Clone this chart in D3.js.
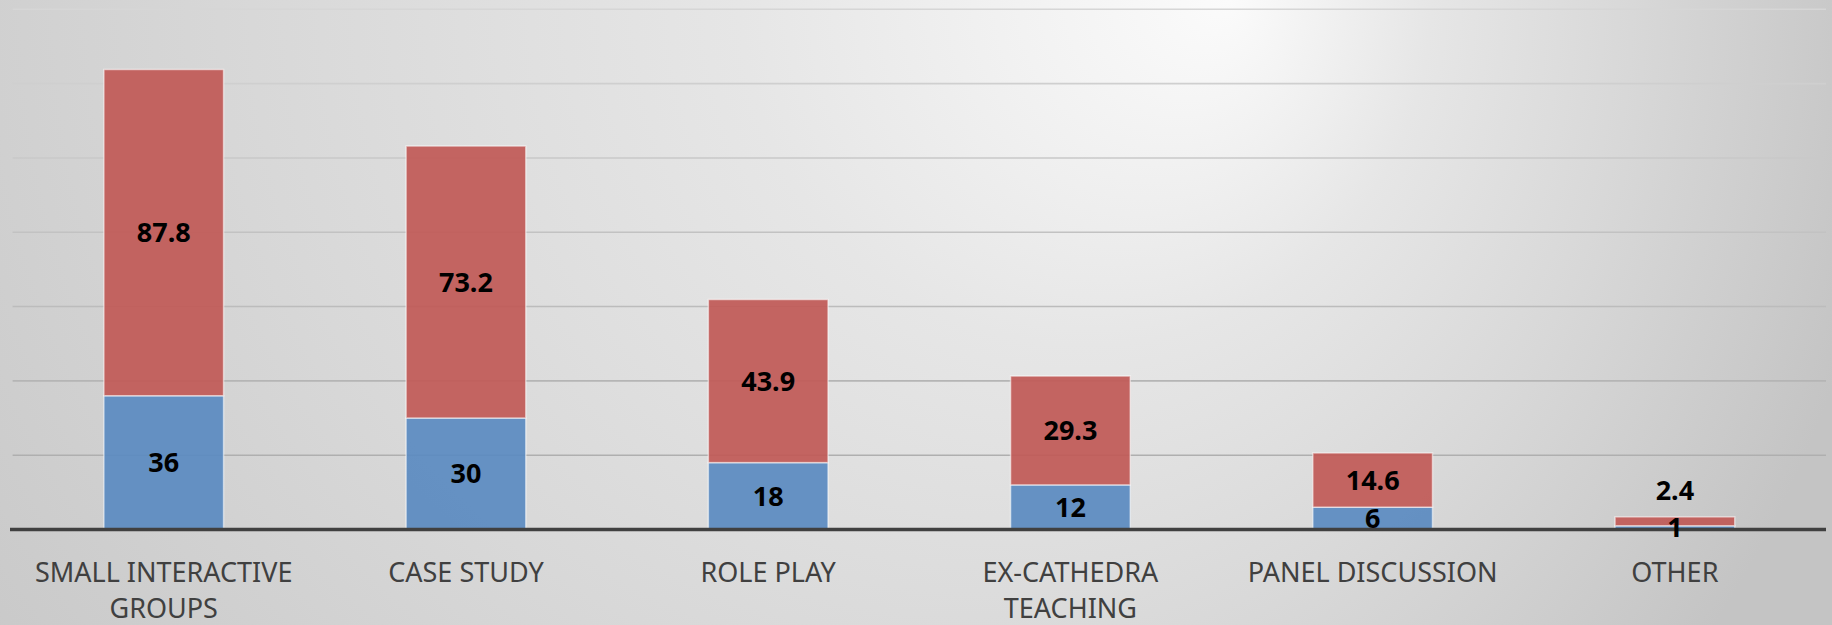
<!DOCTYPE html>
<html>
<head>
<meta charset="utf-8">
<script src="https://cdn.jsdelivr.net/npm/d3@7"></script>
<style>
  html, body { margin: 0; padding: 0; overflow: hidden; }
  svg { display: block; }
</style>
</head>
<body>
<svg id="chart" width="1832" height="625"></svg>
<script>
// ---- data ----
const categories = ["SMALL INTERACTIVE GROUPS", "CASE STUDY", "ROLE PLAY", "EX-CATHEDRA TEACHING", "PANEL DISCUSSION", "OTHER"];
const seriesBottom = [36, 30, 18, 12, 6, 1];
const seriesTop = [87.8, 73.2, 43.9, 29.3, 14.6, 2.4];
const gridTicks = [0, 20, 40, 60, 80, 100, 120, 140];

// ---- setup ----
const W = 1832, H = 625;
const svg = d3.select("#chart");
const defs = svg.append("defs");

const bg = defs.append("radialGradient")
  .attr("id", "bg")
  .attr("gradientUnits", "userSpaceOnUse")
  .attr("cx", 750).attr("cy", 0).attr("r", 1150)
  .attr("fx", 1230).attr("fy", 0);
[[0, "#fbfbfb"], [0.3, "#e6e6e6"], [0.6, "#d8d8d8"], [1, "#c4c4c4"]].forEach(([o, c]) =>
  bg.append("stop").attr("offset", o).attr("stop-color", c));

svg.append("rect").attr("width", W).attr("height", H).attr("fill", "url(#bg)");

const x = d3.scaleBand().domain(categories).range([12.6, 1826]).paddingInner(0.604).paddingOuter(0.302);
const y = d3.scaleLinear().domain([0, 140]).range([529.5, 9.3]);

const gridColor = d3.scaleLinear().domain([140, 0]).range(["#d6d6d6", "#a8a8a8"]);

// gridlines
svg.append("g").selectAll("line")
  .data(gridTicks.filter(d => d > 0))
  .join("line")
  .attr("x1", 12.6).attr("x2", 1826)
  .attr("y1", d => y(d)).attr("y2", d => y(d))
  .attr("stroke", d => gridColor(d))
  .attr("stroke-width", 1.6);

// stacked data
const rows = categories.map((c, i) => ({ cat: c, a: seriesBottom[i], b: seriesTop[i] }));
const stack = d3.stack().keys(["a", "b"])(rows);
const colors = { a: "#5b8bc1", b: "#c15a57" };

const layers = svg.append("g").selectAll("g")
  .data(stack).join("g")
  .attr("fill", d => colors[d.key]);

layers.selectAll("rect")
  .data(d => d)
  .join("rect")
  .attr("x", d => x(d.data.cat))
  .attr("width", x.bandwidth())
  .attr("y", d => y(d[1]))
  .attr("height", d => y(d[0]) - y(d[1]))
  .attr("fill-opacity", 0.93)
  .attr("stroke", "rgba(255,255,255,0.55)")
  .attr("stroke-width", 1.5);

// axis line
svg.append("line")
  .attr("x1", 10).attr("x2", 1826)
  .attr("y1", y(0)).attr("y2", y(0))
  .attr("stroke", "#404040").attr("stroke-width", 3.5);

// value labels
const labelG = svg.append("g")
  .attr("font-family", "'Noto Sans', sans-serif")
  .attr("font-weight", "bold")
  .attr("font-size", 27)
  .attr("fill", "#000")
  .attr("text-anchor", "middle");

stack.forEach(layer => {
  layer.forEach(d => {
    const v = d.data[layer.key];
    const top = y(d[1]), bot = y(d[0]);
    let cy = (top + bot) / 2;
    if (layer.key === "b" && bot - top < 20) cy = top - 27;
    labelG.append("text")
      .attr("x", x(d.data.cat) + x.bandwidth() / 2)
      .attr("y", cy)
      .attr("dy", "0.36em")
      .text(v);
  });
});

// category labels with wrapping
const catG = svg.append("g")
  .attr("font-family", "'Noto Sans', sans-serif")
  .attr("font-size", 27)
  .attr("fill", "#404040")
  .attr("text-anchor", "middle");

categories.forEach(c => {
  const cx = x(c) + x.bandwidth() / 2;
  const words = c.split(" ");
  const t = catG.append("text").attr("x", cx).attr("y", 581.5);
  let lines = [];
  let cur = [];
  const maxW = x.step() * 0.98;
  words.forEach(w => {
    const test = cur.concat([w]).join(" ");
    t.text(test);
    if (t.node().getComputedTextLength() > maxW && cur.length) {
      lines.push(cur.join(" "));
      cur = [w];
    } else {
      cur.push(w);
    }
  });
  lines.push(cur.join(" "));
  t.text(null);
  lines.forEach((ln, i) => {
    t.append("tspan").attr("x", cx).attr("y", 581.5 + i * 36).text(ln);
  });
});
</script>
</body>
</html>
